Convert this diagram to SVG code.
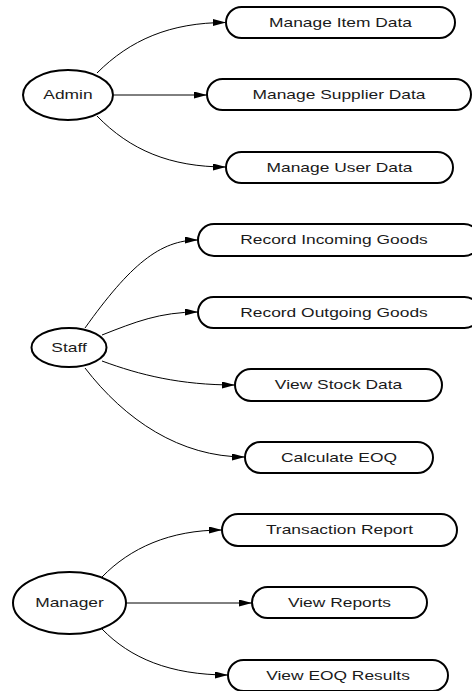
<svg xmlns="http://www.w3.org/2000/svg" width="472" height="691" viewBox="0 0 472 691">
  <style>
    .actor, .usecase { fill: #ffffff; stroke: #000000; stroke-width: 2; }
    .edge { fill: none; stroke: #000000; stroke-width: 1; marker-end: url(#arrow); }
    .label { font-family: "Liberation Sans", Arial, sans-serif; font-size: 12px; fill: #1a1a1a; text-anchor: middle; }
  </style>
  <defs>
    <marker id="arrow" viewBox="0 0 13 7" markerWidth="13" markerHeight="7" refX="13" refY="3.5" orient="auto" markerUnits="userSpaceOnUse">
      <path d="M0,0 L13,3.5 L0,7 z" fill="#000000"/>
    </marker>
  </defs>
  <rect width="472" height="691" fill="#ffffff"/>

  <!-- connectors -->
  <g id="edges">
    <path class="edge" d="M97,73 C130,40 170,22.5 226,22.5"/>
    <path class="edge" d="M114,95 L207,95"/>
    <path class="edge" d="M97,116 C130,150 170,167 226,167"/>

    <path class="edge" d="M85,328 C130,265 160,240 198,240"/>
    <path class="edge" d="M102,335 C135,322 160,312 198,312"/>
    <path class="edge" d="M102,361 C140,375 180,385 235,385"/>
    <path class="edge" d="M85,368 C125,420 180,457 245,457"/>

    <path class="edge" d="M102,577 C130,548 170,530 222,530"/>
    <path class="edge" d="M126,603 L252,603"/>
    <path class="edge" d="M102,629 C130,658 170,675 228,675"/>
  </g>

  <!-- actors -->
  <g id="admin">
    <ellipse class="actor" cx="68" cy="95" rx="45" ry="25"/>
    <text class="label" transform="translate(68,99) scale(1.45,1)">Admin</text>
  </g>
  <g id="staff">
    <ellipse class="actor" cx="69" cy="347.5" rx="37.5" ry="19.5"/>
    <text class="label" transform="translate(69,351.5) scale(1.45,1)">Staff</text>
  </g>
  <g id="manager">
    <ellipse class="actor" cx="69.5" cy="603" rx="56.5" ry="31"/>
    <text class="label" transform="translate(69.5,607) scale(1.45,1)">Manager</text>
  </g>

  <!-- use cases -->
  <g id="manage-item-data">
    <rect class="usecase" x="226" y="7" width="229" height="31" rx="15.5"/>
    <text class="label" transform="translate(340.5,26.5) scale(1.45,1)">Manage Item Data</text>
  </g>
  <g id="manage-supplier-data">
    <rect class="usecase" x="207" y="79" width="264" height="31" rx="15.5"/>
    <text class="label" transform="translate(339,99) scale(1.45,1)">Manage Supplier Data</text>
  </g>
  <g id="manage-user-data">
    <rect class="usecase" x="226" y="152" width="227" height="31" rx="15.5"/>
    <text class="label" transform="translate(339.5,171.5) scale(1.45,1)">Manage User Data</text>
  </g>

  <g id="record-incoming-goods">
    <rect class="usecase" x="198" y="224" width="282" height="32" rx="16"/>
    <text class="label" transform="translate(334,244) scale(1.45,1)">Record Incoming Goods</text>
  </g>
  <g id="record-outgoing-goods">
    <rect class="usecase" x="198" y="297" width="282" height="31" rx="15.5"/>
    <text class="label" transform="translate(334,316.5) scale(1.45,1)">Record Outgoing Goods</text>
  </g>
  <g id="view-stock-data">
    <rect class="usecase" x="235" y="369" width="207" height="32" rx="16"/>
    <text class="label" transform="translate(338.5,389) scale(1.45,1)">View Stock Data</text>
  </g>
  <g id="calculate-eoq">
    <rect class="usecase" x="245" y="442" width="188" height="31" rx="15.5"/>
    <text class="label" transform="translate(339,461.5) scale(1.45,1)">Calculate EOQ</text>
  </g>

  <g id="transaction-report">
    <rect class="usecase" x="222" y="514" width="235" height="32" rx="16"/>
    <text class="label" transform="translate(339.5,534) scale(1.45,1)">Transaction Report</text>
  </g>
  <g id="view-reports">
    <rect class="usecase" x="252" y="587" width="175" height="31" rx="15.5"/>
    <text class="label" transform="translate(339.5,606.5) scale(1.45,1)">View Reports</text>
  </g>
  <g id="view-eoq-results">
    <rect class="usecase" x="228" y="660" width="220" height="31" rx="15.5"/>
    <text class="label" transform="translate(338,679.5) scale(1.45,1)">View EOQ Results</text>
  </g>
</svg>
